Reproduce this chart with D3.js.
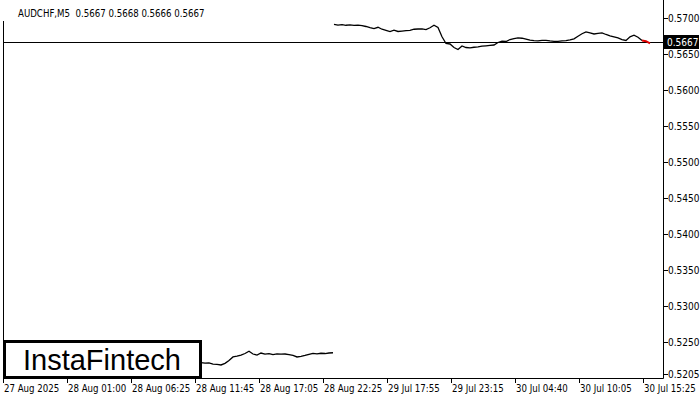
<!DOCTYPE html>
<html><head><meta charset="utf-8">
<script src="https://cdn.jsdelivr.net/npm/d3@7"></script>
<style>
html,body{margin:0;padding:0;background:#fff;}
svg{display:block;}
text{font-family:"DejaVu Sans Condensed","Liberation Sans",sans-serif;}
</style></head>
<body><svg id="c" width="700" height="400"></svg>
<script>
const title = "AUDCHF,M5  0.5667 0.5668 0.5666 0.5667";
const currentPrice = 0.5667;
const priceTicks = [0.5700, 0.5650, 0.5600, 0.5550, 0.5500, 0.5450, 0.5400, 0.5350, 0.5300, 0.5250, 0.5205];
const timeTickIdx = [0, 64, 128, 192, 256, 320, 384, 448, 512, 576, 640];
const timeTickLabels = ["27 Aug 2025","28 Aug 01:00","28 Aug 06:25","28 Aug 11:45","28 Aug 17:05","28 Aug 22:25","29 Jul 17:55","29 Jul 23:15","30 Jul 04:40","30 Jul 10:05","30 Jul 15:25"];
const lowerStart = 198, lowerStep = 4;
const lowerSeries = [0.52215,0.52206,0.52211,0.52194,0.52188,0.52181,0.52204,0.52243,0.52292,0.52303,0.52319,0.52340,0.52372,0.52333,0.52319,0.52347,0.52331,0.52339,0.52326,0.52336,0.52331,0.52333,0.52325,0.52313,0.52292,0.52301,0.52313,0.52329,0.52343,0.52336,0.52344,0.52340,0.52347,0.52351];
const upperStart = 331, upperStep = 4;
const upperSeries = [0.56913,0.56900,0.56908,0.56899,0.56904,0.56897,0.56901,0.56894,0.56882,0.56865,0.56853,0.56871,0.56844,0.56828,0.56810,0.56831,0.56813,0.56819,0.56825,0.56829,0.56844,0.56847,0.56849,0.56840,0.56865,0.56900,0.56868,0.56740,0.56646,0.56639,0.56590,0.56563,0.56611,0.56590,0.56586,0.56594,0.56600,0.56608,0.56614,0.56621,0.56625,0.56660,0.56678,0.56674,0.56701,0.56715,0.56725,0.56719,0.56708,0.56692,0.56686,0.56683,0.56690,0.56688,0.56681,0.56676,0.56674,0.56681,0.56686,0.56697,0.56711,0.56747,0.56781,0.56806,0.56792,0.56778,0.56786,0.56794,0.56771,0.56753,0.56739,0.56725,0.56701,0.56688,0.56739,0.56761,0.56732,0.56688,0.56678,0.56649];
const redCount = 3;
const logoText = "InstaFintech";

(function(){
const svg = d3.select("#c");
const pLeft = 3, pRight = 663, pBottom = 378;
const x = d3.scaleLinear().domain([0, 660]).range([pLeft, pRight]);
const y = d3.scaleLinear().domain([0.5205, 0.5700]).range([374.4, 18]);

// frame
svg.append("line").attr("x1", pRight + 0.5).attr("x2", pRight + 0.5).attr("y1", 0).attr("y2", pBottom + 0.5).attr("stroke", "#000");
svg.append("line").attr("x1", pLeft + 0.5).attr("x2", pLeft + 0.5).attr("y1", 21).attr("y2", pBottom + 0.5).attr("stroke", "#000");
svg.append("line").attr("x1", pLeft).attr("x2", pRight + 0.5).attr("y1", pBottom + 0.5).attr("y2", pBottom + 0.5).attr("stroke", "#000");

// right axis
const ya = svg.append("g");
priceTicks.forEach(v => {
  const yy = Math.round(y(v)) + 0.5;
  ya.append("line").attr("x1", pRight).attr("x2", pRight + 5).attr("y1", yy).attr("y2", yy).attr("stroke", "#000");
  ya.append("text").attr("x", 668).attr("y", yy).attr("dy", "0.35em").attr("font-size", 10).attr("fill", "#000").text(v.toFixed(4));
});

// bottom axis
timeTickIdx.forEach((t, i) => {
  const xx = Math.round(x(t)) + 0.5;
  svg.append("line").attr("x1", xx).attr("x2", xx).attr("y1", pBottom).attr("y2", pBottom + 5).attr("stroke", "#000");
  svg.append("text").attr("x", xx + 0.5).attr("y", 392).attr("font-size", 9.6).attr("fill", "#000").text(timeTickLabels[i]);
});

// price line
const py = Math.round(y(currentPrice)) + 0.5;
svg.append("line").attr("x1", pLeft).attr("x2", pRight).attr("y1", py).attr("y2", py).attr("stroke", "#000");

// series
const line = d3.line().x(d => x(d[0])).y(d => y(d[1]));
const lowPts = lowerSeries.map((v, i) => [lowerStart + i * lowerStep, v]);
const upPts = upperSeries.map((v, i) => [upperStart + i * upperStep, v]);
svg.append("path").attr("d", line(lowPts)).attr("fill", "none").attr("stroke", "#000").attr("stroke-width", 1.3);
svg.append("path").attr("d", line(upPts.slice(0, upPts.length - redCount + 1))).attr("fill", "none").attr("stroke", "#000").attr("stroke-width", 1.3);
svg.append("path").attr("d", line(upPts.slice(upPts.length - redCount))).attr("fill", "none").attr("stroke", "#e00000").attr("stroke-width", 2);

// current price label
svg.append("rect").attr("x", pRight + 1).attr("y", py - 7.5).attr("width", 35).attr("height", 14).attr("fill", "#000");
svg.append("text").attr("x", 667).attr("y", py).attr("dy", "0.35em").attr("font-size", 10).attr("fill", "#fff").text(currentPrice.toFixed(4));

// title
svg.append("text").attr("x", 18).attr("y", 17).attr("font-size", 9.6).attr("fill", "#000").attr("xml:space", "preserve").style("white-space", "pre").text(title);

// logo
svg.append("rect").attr("x", 4.5).attr("y", 341.5).attr("width", 196).attr("height", 36).attr("fill", "#fff").attr("stroke", "#000").attr("stroke-width", 3);
svg.append("text").attr("x", 102).attr("y", 370).attr("text-anchor", "middle").attr("font-size", 29).style("font-family", "'Liberation Sans', Arial, sans-serif").attr("fill", "#000").text(logoText);
})();
</script></body></html>
